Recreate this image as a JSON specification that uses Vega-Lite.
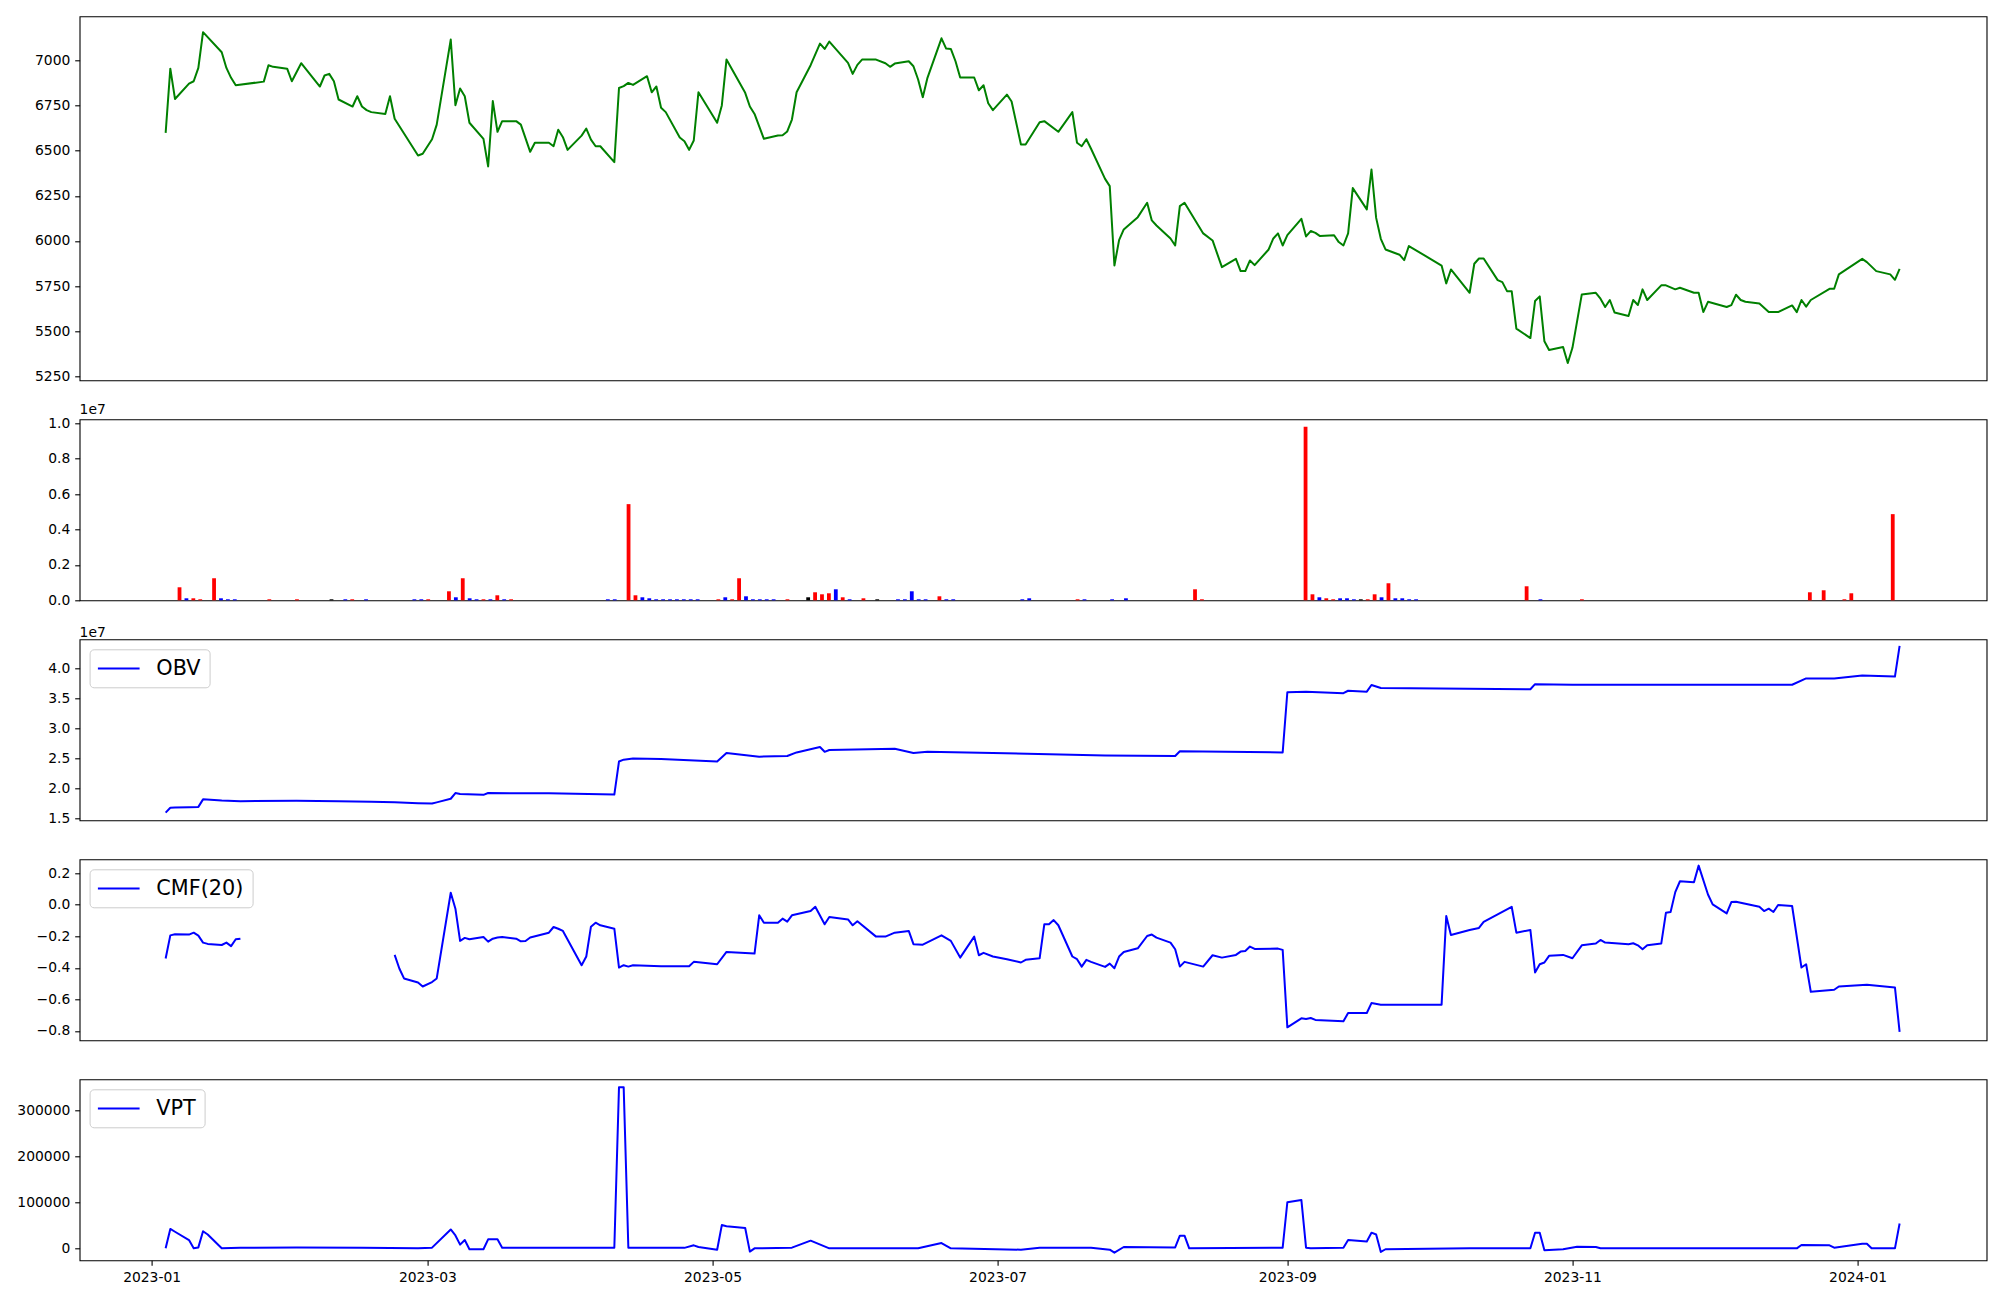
{
"$schema": "https://vega.github.io/schema/vega-lite/v6.json",
"background": "white",
"padding": {"left": 15.6, "top": 15.3, "right": 0, "bottom": 0},
"spacing": 39,
"bounds": "flush",
"resolve": {"scale": {"color": "independent"}, "legend": {"color": "independent"}},
"config": {
  "font": "DejaVu Sans",
  "view": {"stroke": "#000000", "strokeWidth": 1.1},
  "axis": {"domain": false, "grid": false, "tickColor": "#000000", "tickWidth": 1.1, "tickSize": 4.9, "labelFont": "DejaVu Sans", "labelFontSize": 13.9, "labelColor": "#000000", "labelPadding": 4.9},
  "legend": {"orient": "top-left", "offset": 10.4, "padding": 8.3, "fillColor": "rgba(255,255,255,0.8)", "strokeColor": "#cccccc", "cornerRadius": 4, "labelFont": "DejaVu Sans", "labelFontSize": 20.8, "labelColor": "#000000", "symbolType": "M-2.085,0L2.085,0", "symbolSize": 400, "symbolStrokeWidth": 2, "symbolOffset": 9.85, "labelOffset": 26.55},
  "title": {"anchor": "start", "frame": "group", "fontSize": 13.9, "fontWeight": "normal", "font": "DejaVu Sans", "color": "#000000", "offset": -1}
},
"vconcat": [
{
  "width": 1907, "height": 364,
  "data": {"values": [
{"date":"2023-01-04","close":6599},{"date":"2023-01-05","close":6955},{"date":"2023-01-06","close":6787},{"date":"2023-01-09","close":6872},{"date":"2023-01-10","close":6885},{"date":"2023-01-11","close":6959},{"date":"2023-01-12","close":7157},{"date":"2023-01-16","close":7046},{"date":"2023-01-17","close":6959},{"date":"2023-01-18","close":6904},{"date":"2023-01-19","close":6863},{"date":"2023-01-25","close":6883},{"date":"2023-01-26","close":6974},{"date":"2023-01-27","close":6965},{"date":"2023-01-30","close":6955},{"date":"2023-01-31","close":6885},{"date":"2023-02-02","close":6985},{"date":"2023-02-06","close":6856},{"date":"2023-02-07","close":6917},{"date":"2023-02-08","close":6926},{"date":"2023-02-09","close":6885},{"date":"2023-02-10","close":6784},{"date":"2023-02-13","close":6745},{"date":"2023-02-14","close":6802},{"date":"2023-02-15","close":6745},{"date":"2023-02-16","close":6725},{"date":"2023-02-17","close":6714},{"date":"2023-02-20","close":6704},{"date":"2023-02-21","close":6802},{"date":"2023-02-22","close":6677},{"date":"2023-02-27","close":6474},{"date":"2023-02-28","close":6483},{"date":"2023-03-02","close":6564},{"date":"2023-03-03","close":6645},{"date":"2023-03-06","close":7116},{"date":"2023-03-07","close":6752},{"date":"2023-03-08","close":6845},{"date":"2023-03-09","close":6802},{"date":"2023-03-10","close":6655},{"date":"2023-03-13","close":6566},{"date":"2023-03-14","close":6413},{"date":"2023-03-15","close":6775},{"date":"2023-03-16","close":6605},{"date":"2023-03-17","close":6664},{"date":"2023-03-20","close":6664},{"date":"2023-03-21","close":6645},{"date":"2023-03-23","close":6494},{"date":"2023-03-24","close":6544},{"date":"2023-03-27","close":6544},{"date":"2023-03-28","close":6525},{"date":"2023-03-29","close":6616},{"date":"2023-03-30","close":6575},{"date":"2023-03-31","close":6505},{"date":"2023-04-03","close":6584},{"date":"2023-04-04","close":6623},{"date":"2023-04-05","close":6562},{"date":"2023-04-06","close":6525},{"date":"2023-04-07","close":6525},{"date":"2023-04-10","close":6437},{"date":"2023-04-11","close":6848},{"date":"2023-04-12","close":6858},{"date":"2023-04-13","close":6876},{"date":"2023-04-14","close":6865},{"date":"2023-04-17","close":6913},{"date":"2023-04-18","close":6824},{"date":"2023-04-19","close":6856},{"date":"2023-04-20","close":6738},{"date":"2023-04-21","close":6714},{"date":"2023-04-24","close":6573},{"date":"2023-04-25","close":6553},{"date":"2023-04-26","close":6505},{"date":"2023-04-27","close":6557},{"date":"2023-04-28","close":6824},{"date":"2023-05-02","close":6655},{"date":"2023-05-03","close":6751},{"date":"2023-05-04","close":7005},{"date":"2023-05-08","close":6821},{"date":"2023-05-09","close":6745},{"date":"2023-05-10","close":6704},{"date":"2023-05-12","close":6566},{"date":"2023-05-15","close":6584},{"date":"2023-05-16","close":6586},{"date":"2023-05-17","close":6607},{"date":"2023-05-18","close":6673},{"date":"2023-05-19","close":6824},{"date":"2023-05-22","close":6974},{"date":"2023-05-24","close":7094},{"date":"2023-05-25","close":7064},{"date":"2023-05-26","close":7105},{"date":"2023-05-30","close":6987},{"date":"2023-05-31","close":6926},{"date":"2023-06-01","close":6976},{"date":"2023-06-02","close":7005},{"date":"2023-06-05","close":7005},{"date":"2023-06-07","close":6985},{"date":"2023-06-08","close":6965},{"date":"2023-06-09","close":6983},{"date":"2023-06-12","close":6996},{"date":"2023-06-13","close":6968},{"date":"2023-06-14","close":6895},{"date":"2023-06-15","close":6797},{"date":"2023-06-16","close":6904},{"date":"2023-06-19","close":7123},{"date":"2023-06-20","close":7066},{"date":"2023-06-21","close":7064},{"date":"2023-06-22","close":6996},{"date":"2023-06-23","close":6906},{"date":"2023-06-26","close":6906},{"date":"2023-06-27","close":6835},{"date":"2023-06-28","close":6863},{"date":"2023-06-29","close":6763},{"date":"2023-06-30","close":6725},{"date":"2023-07-03","close":6811},{"date":"2023-07-04","close":6773},{"date":"2023-07-06","close":6535},{"date":"2023-07-07","close":6535},{"date":"2023-07-10","close":6658},{"date":"2023-07-11","close":6664},{"date":"2023-07-14","close":6605},{"date":"2023-07-17","close":6714},{"date":"2023-07-18","close":6544},{"date":"2023-07-19","close":6525},{"date":"2023-07-20","close":6564},{"date":"2023-07-21","close":6511},{"date":"2023-07-24","close":6344},{"date":"2023-07-25","close":6304},{"date":"2023-07-26","close":5864},{"date":"2023-07-27","close":6005},{"date":"2023-07-28","close":6064},{"date":"2023-07-31","close":6132},{"date":"2023-08-02","close":6212},{"date":"2023-08-03","close":6114},{"date":"2023-08-04","close":6086},{"date":"2023-08-07","close":6014},{"date":"2023-08-08","close":5975},{"date":"2023-08-09","close":6193},{"date":"2023-08-10","close":6212},{"date":"2023-08-14","close":6042},{"date":"2023-08-16","close":6003},{"date":"2023-08-18","close":5855},{"date":"2023-08-21","close":5901},{"date":"2023-08-22","close":5833},{"date":"2023-08-23","close":5833},{"date":"2023-08-24","close":5892},{"date":"2023-08-25","close":5866},{"date":"2023-08-28","close":5953},{"date":"2023-08-29","close":6014},{"date":"2023-08-30","close":6042},{"date":"2023-08-31","close":5975},{"date":"2023-09-01","close":6032},{"date":"2023-09-04","close":6123},{"date":"2023-09-05","close":6025},{"date":"2023-09-06","close":6055},{"date":"2023-09-07","close":6045},{"date":"2023-09-08","close":6027},{"date":"2023-09-11","close":6032},{"date":"2023-09-12","close":5994},{"date":"2023-09-13","close":5975},{"date":"2023-09-14","close":6042},{"date":"2023-09-15","close":6293},{"date":"2023-09-18","close":6175},{"date":"2023-09-19","close":6396},{"date":"2023-09-20","close":6128},{"date":"2023-09-21","close":6012},{"date":"2023-09-22","close":5953},{"date":"2023-09-25","close":5924},{"date":"2023-09-26","close":5894},{"date":"2023-09-27","close":5972},{"date":"2023-10-04","close":5864},{"date":"2023-10-05","close":5765},{"date":"2023-10-06","close":5842},{"date":"2023-10-10","close":5713},{"date":"2023-10-11","close":5874},{"date":"2023-10-12","close":5903},{"date":"2023-10-13","close":5903},{"date":"2023-10-16","close":5783},{"date":"2023-10-17","close":5772},{"date":"2023-10-18","close":5722},{"date":"2023-10-19","close":5722},{"date":"2023-10-20","close":5514},{"date":"2023-10-23","close":5462},{"date":"2023-10-24","close":5667},{"date":"2023-10-25","close":5693},{"date":"2023-10-26","close":5444},{"date":"2023-10-27","close":5396},{"date":"2023-10-30","close":5412},{"date":"2023-10-31","close":5324},{"date":"2023-11-01","close":5408},{"date":"2023-11-03","close":5704},{"date":"2023-11-06","close":5713},{"date":"2023-11-07","close":5680},{"date":"2023-11-08","close":5634},{"date":"2023-11-09","close":5673},{"date":"2023-11-10","close":5604},{"date":"2023-11-13","close":5584},{"date":"2023-11-14","close":5673},{"date":"2023-11-15","close":5645},{"date":"2023-11-16","close":5732},{"date":"2023-11-17","close":5673},{"date":"2023-11-20","close":5754},{"date":"2023-11-21","close":5754},{"date":"2023-11-23","close":5732},{"date":"2023-11-24","close":5741},{"date":"2023-11-27","close":5713},{"date":"2023-11-28","close":5713},{"date":"2023-11-29","close":5606},{"date":"2023-11-30","close":5663},{"date":"2023-12-04","close":5634},{"date":"2023-12-05","close":5645},{"date":"2023-12-06","close":5702},{"date":"2023-12-07","close":5673},{"date":"2023-12-08","close":5663},{"date":"2023-12-11","close":5654},{"date":"2023-12-13","close":5606},{"date":"2023-12-15","close":5606},{"date":"2023-12-18","close":5643},{"date":"2023-12-19","close":5606},{"date":"2023-12-20","close":5673},{"date":"2023-12-21","close":5636},{"date":"2023-12-22","close":5673},{"date":"2023-12-26","close":5735},{"date":"2023-12-27","close":5735},{"date":"2023-12-28","close":5815},{"date":"2024-01-02","close":5901},{"date":"2024-01-03","close":5883},{"date":"2024-01-05","close":5833},{"date":"2024-01-08","close":5815},{"date":"2024-01-09","close":5785},{"date":"2024-01-10","close":5846}
  ]},
  "mark": {"type": "line", "color": "#008000", "strokeWidth": 2, "strokeJoin": "round"},
  "encoding": {
    "x": {"field": "date", "type": "temporal", "scale": {"type": "utc", "domain": [{"year":2022,"month":12,"date":16,"hours":14,"minutes":10,"utc":true},{"year":2024,"month":1,"date":28,"hours":14,"minutes":40,"utc":true}]}, "axis": null},
    "y": {"field": "close", "type": "quantitative", "scale": {"domain": [5228, 7245], "nice": false, "zero": false}, "axis": {"values": [5250,5500,5750,6000,6250,6500,6750,7000], "format": "d", "title": null}}
  }
},
{
  "width": 1907, "height": 181,
  "title": {"text": "1e7"},
  "data": {"values": [
{"k":0,"volume":735000,"dir":"up"},{"k":1,"volume":113000,"dir":"down"},{"k":2,"volume":113000,"dir":"up"},{"k":3,"volume":57000,"dir":"up"},{"k":5,"volume":1245000,"dir":"up"},{"k":6,"volume":113000,"dir":"down"},{"k":7,"volume":57000,"dir":"down"},{"k":8,"volume":57000,"dir":"down"},{"k":13,"volume":57000,"dir":"up"},{"k":17,"volume":57000,"dir":"up"},{"k":22,"volume":57000,"dir":"flat"},{"k":24,"volume":57000,"dir":"down"},{"k":25,"volume":57000,"dir":"up"},{"k":27,"volume":57000,"dir":"down"},{"k":34,"volume":57000,"dir":"down"},{"k":35,"volume":57000,"dir":"down"},{"k":36,"volume":57000,"dir":"up"},{"k":39,"volume":509000,"dir":"up"},{"k":40,"volume":170000,"dir":"down"},{"k":41,"volume":1245000,"dir":"up"},{"k":42,"volume":113000,"dir":"down"},{"k":43,"volume":57000,"dir":"down"},{"k":44,"volume":57000,"dir":"up"},{"k":45,"volume":57000,"dir":"down"},{"k":46,"volume":283000,"dir":"up"},{"k":47,"volume":57000,"dir":"down"},{"k":48,"volume":57000,"dir":"up"},{"k":62,"volume":57000,"dir":"down"},{"k":63,"volume":57000,"dir":"down"},{"k":65,"volume":5430000,"dir":"up"},{"k":66,"volume":283000,"dir":"up"},{"k":67,"volume":170000,"dir":"down"},{"k":68,"volume":113000,"dir":"down"},{"k":69,"volume":57000,"dir":"down"},{"k":70,"volume":57000,"dir":"down"},{"k":71,"volume":57000,"dir":"down"},{"k":72,"volume":57000,"dir":"down"},{"k":73,"volume":57000,"dir":"down"},{"k":74,"volume":57000,"dir":"down"},{"k":75,"volume":57000,"dir":"down"},{"k":78,"volume":57000,"dir":"up"},{"k":79,"volume":170000,"dir":"down"},{"k":80,"volume":57000,"dir":"up"},{"k":81,"volume":1245000,"dir":"up"},{"k":82,"volume":226000,"dir":"down"},{"k":83,"volume":57000,"dir":"down"},{"k":84,"volume":57000,"dir":"down"},{"k":85,"volume":57000,"dir":"down"},{"k":86,"volume":57000,"dir":"down"},{"k":88,"volume":57000,"dir":"up"},{"k":91,"volume":170000,"dir":"flat"},{"k":92,"volume":453000,"dir":"up"},{"k":93,"volume":339000,"dir":"up"},{"k":94,"volume":396000,"dir":"up"},{"k":95,"volume":622000,"dir":"down"},{"k":96,"volume":170000,"dir":"up"},{"k":97,"volume":57000,"dir":"down"},{"k":99,"volume":113000,"dir":"up"},{"k":101,"volume":57000,"dir":"flat"},{"k":104,"volume":57000,"dir":"down"},{"k":105,"volume":57000,"dir":"down"},{"k":106,"volume":509000,"dir":"down"},{"k":107,"volume":57000,"dir":"down"},{"k":108,"volume":57000,"dir":"down"},{"k":110,"volume":226000,"dir":"up"},{"k":111,"volume":57000,"dir":"down"},{"k":112,"volume":57000,"dir":"down"},{"k":122,"volume":57000,"dir":"down"},{"k":123,"volume":113000,"dir":"down"},{"k":130,"volume":57000,"dir":"up"},{"k":131,"volume":57000,"dir":"down"},{"k":135,"volume":57000,"dir":"down"},{"k":137,"volume":113000,"dir":"down"},{"k":147,"volume":622000,"dir":"up"},{"k":148,"volume":57000,"dir":"up"},{"k":163,"volume":9805000,"dir":"up"},{"k":164,"volume":339000,"dir":"up"},{"k":165,"volume":170000,"dir":"down"},{"k":166,"volume":113000,"dir":"up"},{"k":167,"volume":57000,"dir":"up"},{"k":168,"volume":113000,"dir":"down"},{"k":169,"volume":113000,"dir":"down"},{"k":170,"volume":57000,"dir":"down"},{"k":171,"volume":57000,"dir":"flat"},{"k":172,"volume":57000,"dir":"up"},{"k":173,"volume":339000,"dir":"up"},{"k":174,"volume":170000,"dir":"down"},{"k":175,"volume":962000,"dir":"up"},{"k":176,"volume":113000,"dir":"down"},{"k":177,"volume":113000,"dir":"down"},{"k":178,"volume":57000,"dir":"down"},{"k":179,"volume":57000,"dir":"down"},{"k":195,"volume":792000,"dir":"up"},{"k":197,"volume":57000,"dir":"down"},{"k":203,"volume":57000,"dir":"up"},{"k":236,"volume":453000,"dir":"up"},{"k":238,"volume":566000,"dir":"up"},{"k":241,"volume":57000,"dir":"up"},{"k":242,"volume":396000,"dir":"up"},{"k":248,"volume":4865000,"dir":"up"}
  ]},
  "mark": {"type": "bar", "width": 3.8},
  "encoding": {
    "x": {"field": "k", "type": "quantitative", "scale": {"domain": [-13.74, 260.86], "nice": false, "zero": false}, "axis": null},
    "y": {"field": "volume", "type": "quantitative", "scale": {"domain": [0, 10220000], "nice": false}, "axis": {"values": [0,2000000,4000000,6000000,8000000,10000000], "labelExpr": "format(datum.value/1e7, '.1f')", "title": null}},
    "color": {"field": "dir", "type": "nominal", "scale": {"domain": ["up","down","flat"], "range": ["#ff0000","#0000ff","#000000"]}, "legend": null}
  }
},
{
  "width": 1907, "height": 181,
  "title": {"text": "1e7"},
  "data": {"values": [
{"date":"2023-01-04","s":"OBV","v":16000000},{"date":"2023-01-05","s":"OBV","v":16800000},{"date":"2023-01-06","s":"OBV","v":16850000},{"date":"2023-01-09","s":"OBV","v":16900000},{"date":"2023-01-11","s":"OBV","v":16950000},{"date":"2023-01-12","s":"OBV","v":18200000},{"date":"2023-01-16","s":"OBV","v":18000000},{"date":"2023-01-20","s":"OBV","v":17900000},{"date":"2023-02-01","s":"OBV","v":17950000},{"date":"2023-02-10","s":"OBV","v":17900000},{"date":"2023-02-17","s":"OBV","v":17800000},{"date":"2023-02-22","s":"OBV","v":17700000},{"date":"2023-02-27","s":"OBV","v":17550000},{"date":"2023-03-02","s":"OBV","v":17500000},{"date":"2023-03-03","s":"OBV","v":17700000},{"date":"2023-03-06","s":"OBV","v":18300000},{"date":"2023-03-07","s":"OBV","v":19250000},{"date":"2023-03-08","s":"OBV","v":19100000},{"date":"2023-03-13","s":"OBV","v":18950000},{"date":"2023-03-14","s":"OBV","v":19250000},{"date":"2023-03-27","s":"OBV","v":19200000},{"date":"2023-04-10","s":"OBV","v":19000000},{"date":"2023-04-11","s":"OBV","v":24500000},{"date":"2023-04-12","s":"OBV","v":24800000},{"date":"2023-04-14","s":"OBV","v":25000000},{"date":"2023-04-20","s":"OBV","v":24900000},{"date":"2023-05-02","s":"OBV","v":24500000},{"date":"2023-05-04","s":"OBV","v":25900000},{"date":"2023-05-11","s":"OBV","v":25300000},{"date":"2023-05-17","s":"OBV","v":25400000},{"date":"2023-05-19","s":"OBV","v":26000000},{"date":"2023-05-24","s":"OBV","v":26900000},{"date":"2023-05-25","s":"OBV","v":26100000},{"date":"2023-05-26","s":"OBV","v":26400000},{"date":"2023-06-09","s":"OBV","v":26600000},{"date":"2023-06-13","s":"OBV","v":25900000},{"date":"2023-06-16","s":"OBV","v":26100000},{"date":"2023-06-30","s":"OBV","v":25900000},{"date":"2023-07-24","s":"OBV","v":25500000},{"date":"2023-08-08","s":"OBV","v":25400000},{"date":"2023-08-09","s":"OBV","v":26200000},{"date":"2023-08-31","s":"OBV","v":26000000},{"date":"2023-09-01","s":"OBV","v":36000000},{"date":"2023-09-05","s":"OBV","v":36100000},{"date":"2023-09-13","s":"OBV","v":35850000},{"date":"2023-09-14","s":"OBV","v":36250000},{"date":"2023-09-18","s":"OBV","v":36100000},{"date":"2023-09-19","s":"OBV","v":37200000},{"date":"2023-09-21","s":"OBV","v":36700000},{"date":"2023-10-23","s":"OBV","v":36500000},{"date":"2023-10-24","s":"OBV","v":37350000},{"date":"2023-11-01","s":"OBV","v":37250000},{"date":"2023-12-18","s":"OBV","v":37250000},{"date":"2023-12-21","s":"OBV","v":38300000},{"date":"2023-12-27","s":"OBV","v":38300000},{"date":"2024-01-02","s":"OBV","v":38800000},{"date":"2024-01-09","s":"OBV","v":38600000},{"date":"2024-01-10","s":"OBV","v":43700000}
  ]},
  "mark": {"type": "line", "strokeWidth": 2, "strokeJoin": "round"},
  "encoding": {
    "x": {"field": "date", "type": "temporal", "scale": {"type": "utc", "domain": [{"year":2022,"month":12,"date":16,"hours":14,"minutes":10,"utc":true},{"year":2024,"month":1,"date":28,"hours":14,"minutes":40,"utc":true}]}, "axis": null},
    "y": {"field": "v", "type": "quantitative", "scale": {"domain": [14720000, 44800000], "nice": false, "zero": false}, "axis": {"values": [15000000,20000000,25000000,30000000,35000000,40000000], "labelExpr": "format(datum.value/1e7, '.1f')", "title": null}},
    "color": {"field": "s", "type": "nominal", "scale": {"domain": ["OBV"], "range": ["#0000ff"]}, "legend": {"title": null}}
  }
},
{
  "width": 1907, "height": 181,
  "data": {"values": [
{"date":"2023-01-04","s":"CMF(20)","v":-0.341},{"date":"2023-01-05","s":"CMF(20)","v":-0.194},{"date":"2023-01-06","s":"CMF(20)","v":-0.187},{"date":"2023-01-09","s":"CMF(20)","v":-0.189},{"date":"2023-01-10","s":"CMF(20)","v":-0.177},{"date":"2023-01-11","s":"CMF(20)","v":-0.196},{"date":"2023-01-12","s":"CMF(20)","v":-0.24},{"date":"2023-01-13","s":"CMF(20)","v":-0.248},{"date":"2023-01-16","s":"CMF(20)","v":-0.255},{"date":"2023-01-17","s":"CMF(20)","v":-0.24},{"date":"2023-01-18","s":"CMF(20)","v":-0.262},{"date":"2023-01-19","s":"CMF(20)","v":-0.219},{"date":"2023-01-20","s":"CMF(20)","v":-0.215},{"date":"2023-01-25","s":"CMF(20)","v":null},{"date":"2023-02-22","s":"CMF(20)","v":-0.318},{"date":"2023-02-23","s":"CMF(20)","v":-0.404},{"date":"2023-02-24","s":"CMF(20)","v":-0.467},{"date":"2023-02-27","s":"CMF(20)","v":-0.493},{"date":"2023-02-28","s":"CMF(20)","v":-0.518},{"date":"2023-03-02","s":"CMF(20)","v":-0.49},{"date":"2023-03-03","s":"CMF(20)","v":-0.467},{"date":"2023-03-06","s":"CMF(20)","v":0.076},{"date":"2023-03-07","s":"CMF(20)","v":-0.025},{"date":"2023-03-08","s":"CMF(20)","v":-0.229},{"date":"2023-03-09","s":"CMF(20)","v":-0.21},{"date":"2023-03-10","s":"CMF(20)","v":-0.219},{"date":"2023-03-13","s":"CMF(20)","v":-0.204},{"date":"2023-03-14","s":"CMF(20)","v":-0.234},{"date":"2023-03-15","s":"CMF(20)","v":-0.215},{"date":"2023-03-16","s":"CMF(20)","v":-0.208},{"date":"2023-03-17","s":"CMF(20)","v":-0.204},{"date":"2023-03-20","s":"CMF(20)","v":-0.215},{"date":"2023-03-21","s":"CMF(20)","v":-0.232},{"date":"2023-03-22","s":"CMF(20)","v":-0.23},{"date":"2023-03-23","s":"CMF(20)","v":-0.208},{"date":"2023-03-27","s":"CMF(20)","v":-0.177},{"date":"2023-03-28","s":"CMF(20)","v":-0.141},{"date":"2023-03-29","s":"CMF(20)","v":-0.152},{"date":"2023-03-30","s":"CMF(20)","v":-0.166},{"date":"2023-04-03","s":"CMF(20)","v":-0.383},{"date":"2023-04-04","s":"CMF(20)","v":-0.328},{"date":"2023-04-05","s":"CMF(20)","v":-0.139},{"date":"2023-04-06","s":"CMF(20)","v":-0.114},{"date":"2023-04-07","s":"CMF(20)","v":-0.13},{"date":"2023-04-10","s":"CMF(20)","v":-0.152},{"date":"2023-04-11","s":"CMF(20)","v":-0.398},{"date":"2023-04-12","s":"CMF(20)","v":-0.383},{"date":"2023-04-13","s":"CMF(20)","v":-0.392},{"date":"2023-04-14","s":"CMF(20)","v":-0.383},{"date":"2023-04-17","s":"CMF(20)","v":-0.387},{"date":"2023-04-20","s":"CMF(20)","v":-0.39},{"date":"2023-04-26","s":"CMF(20)","v":-0.39},{"date":"2023-04-27","s":"CMF(20)","v":-0.362},{"date":"2023-05-02","s":"CMF(20)","v":-0.377},{"date":"2023-05-04","s":"CMF(20)","v":-0.299},{"date":"2023-05-10","s":"CMF(20)","v":-0.309},{"date":"2023-05-11","s":"CMF(20)","v":-0.067},{"date":"2023-05-12","s":"CMF(20)","v":-0.114},{"date":"2023-05-15","s":"CMF(20)","v":-0.114},{"date":"2023-05-16","s":"CMF(20)","v":-0.088},{"date":"2023-05-17","s":"CMF(20)","v":-0.107},{"date":"2023-05-18","s":"CMF(20)","v":-0.067},{"date":"2023-05-22","s":"CMF(20)","v":-0.04},{"date":"2023-05-23","s":"CMF(20)","v":-0.013},{"date":"2023-05-25","s":"CMF(20)","v":-0.124},{"date":"2023-05-26","s":"CMF(20)","v":-0.078},{"date":"2023-05-30","s":"CMF(20)","v":-0.093},{"date":"2023-05-31","s":"CMF(20)","v":-0.13},{"date":"2023-06-01","s":"CMF(20)","v":-0.105},{"date":"2023-06-05","s":"CMF(20)","v":-0.202},{"date":"2023-06-07","s":"CMF(20)","v":-0.202},{"date":"2023-06-09","s":"CMF(20)","v":-0.177},{"date":"2023-06-12","s":"CMF(20)","v":-0.166},{"date":"2023-06-13","s":"CMF(20)","v":-0.25},{"date":"2023-06-15","s":"CMF(20)","v":-0.253},{"date":"2023-06-19","s":"CMF(20)","v":-0.194},{"date":"2023-06-21","s":"CMF(20)","v":-0.229},{"date":"2023-06-23","s":"CMF(20)","v":-0.335},{"date":"2023-06-26","s":"CMF(20)","v":-0.202},{"date":"2023-06-27","s":"CMF(20)","v":-0.32},{"date":"2023-06-28","s":"CMF(20)","v":-0.305},{"date":"2023-06-30","s":"CMF(20)","v":-0.328},{"date":"2023-07-03","s":"CMF(20)","v":-0.345},{"date":"2023-07-06","s":"CMF(20)","v":-0.366},{"date":"2023-07-07","s":"CMF(20)","v":-0.349},{"date":"2023-07-10","s":"CMF(20)","v":-0.339},{"date":"2023-07-11","s":"CMF(20)","v":-0.124},{"date":"2023-07-12","s":"CMF(20)","v":-0.124},{"date":"2023-07-13","s":"CMF(20)","v":-0.097},{"date":"2023-07-14","s":"CMF(20)","v":-0.13},{"date":"2023-07-17","s":"CMF(20)","v":-0.328},{"date":"2023-07-18","s":"CMF(20)","v":-0.345},{"date":"2023-07-19","s":"CMF(20)","v":-0.392},{"date":"2023-07-20","s":"CMF(20)","v":-0.349},{"date":"2023-07-21","s":"CMF(20)","v":-0.362},{"date":"2023-07-24","s":"CMF(20)","v":-0.394},{"date":"2023-07-25","s":"CMF(20)","v":-0.373},{"date":"2023-07-26","s":"CMF(20)","v":-0.402},{"date":"2023-07-27","s":"CMF(20)","v":-0.328},{"date":"2023-07-28","s":"CMF(20)","v":-0.299},{"date":"2023-07-31","s":"CMF(20)","v":-0.276},{"date":"2023-08-02","s":"CMF(20)","v":-0.198},{"date":"2023-08-03","s":"CMF(20)","v":-0.189},{"date":"2023-08-04","s":"CMF(20)","v":-0.208},{"date":"2023-08-07","s":"CMF(20)","v":-0.24},{"date":"2023-08-08","s":"CMF(20)","v":-0.282},{"date":"2023-08-09","s":"CMF(20)","v":-0.392},{"date":"2023-08-10","s":"CMF(20)","v":-0.362},{"date":"2023-08-14","s":"CMF(20)","v":-0.392},{"date":"2023-08-16","s":"CMF(20)","v":-0.32},{"date":"2023-08-18","s":"CMF(20)","v":-0.335},{"date":"2023-08-21","s":"CMF(20)","v":-0.318},{"date":"2023-08-22","s":"CMF(20)","v":-0.297},{"date":"2023-08-23","s":"CMF(20)","v":-0.293},{"date":"2023-08-24","s":"CMF(20)","v":-0.265},{"date":"2023-08-25","s":"CMF(20)","v":-0.28},{"date":"2023-08-30","s":"CMF(20)","v":-0.278},{"date":"2023-08-31","s":"CMF(20)","v":-0.286},{"date":"2023-09-01","s":"CMF(20)","v":-0.777},{"date":"2023-09-04","s":"CMF(20)","v":-0.72},{"date":"2023-09-05","s":"CMF(20)","v":-0.724},{"date":"2023-09-06","s":"CMF(20)","v":-0.718},{"date":"2023-09-07","s":"CMF(20)","v":-0.73},{"date":"2023-09-13","s":"CMF(20)","v":-0.739},{"date":"2023-09-14","s":"CMF(20)","v":-0.686},{"date":"2023-09-18","s":"CMF(20)","v":-0.686},{"date":"2023-09-19","s":"CMF(20)","v":-0.623},{"date":"2023-09-21","s":"CMF(20)","v":-0.634},{"date":"2023-10-04","s":"CMF(20)","v":-0.634},{"date":"2023-10-05","s":"CMF(20)","v":-0.072},{"date":"2023-10-06","s":"CMF(20)","v":-0.192},{"date":"2023-10-10","s":"CMF(20)","v":-0.16},{"date":"2023-10-12","s":"CMF(20)","v":-0.147},{"date":"2023-10-13","s":"CMF(20)","v":-0.109},{"date":"2023-10-19","s":"CMF(20)","v":-0.013},{"date":"2023-10-20","s":"CMF(20)","v":-0.177},{"date":"2023-10-23","s":"CMF(20)","v":-0.16},{"date":"2023-10-24","s":"CMF(20)","v":-0.429},{"date":"2023-10-25","s":"CMF(20)","v":-0.377},{"date":"2023-10-26","s":"CMF(20)","v":-0.366},{"date":"2023-10-27","s":"CMF(20)","v":-0.324},{"date":"2023-10-30","s":"CMF(20)","v":-0.318},{"date":"2023-11-01","s":"CMF(20)","v":-0.339},{"date":"2023-11-03","s":"CMF(20)","v":-0.257},{"date":"2023-11-06","s":"CMF(20)","v":-0.246},{"date":"2023-11-07","s":"CMF(20)","v":-0.223},{"date":"2023-11-08","s":"CMF(20)","v":-0.24},{"date":"2023-11-13","s":"CMF(20)","v":-0.25},{"date":"2023-11-14","s":"CMF(20)","v":-0.244},{"date":"2023-11-15","s":"CMF(20)","v":-0.257},{"date":"2023-11-16","s":"CMF(20)","v":-0.282},{"date":"2023-11-17","s":"CMF(20)","v":-0.257},{"date":"2023-11-20","s":"CMF(20)","v":-0.246},{"date":"2023-11-21","s":"CMF(20)","v":-0.051},{"date":"2023-11-22","s":"CMF(20)","v":-0.046},{"date":"2023-11-23","s":"CMF(20)","v":0.08},{"date":"2023-11-24","s":"CMF(20)","v":0.149},{"date":"2023-11-27","s":"CMF(20)","v":0.143},{"date":"2023-11-28","s":"CMF(20)","v":0.248},{"date":"2023-11-30","s":"CMF(20)","v":0.065},{"date":"2023-12-01","s":"CMF(20)","v":0.002},{"date":"2023-12-04","s":"CMF(20)","v":-0.055},{"date":"2023-12-05","s":"CMF(20)","v":0.017},{"date":"2023-12-06","s":"CMF(20)","v":0.019},{"date":"2023-12-11","s":"CMF(20)","v":-0.013},{"date":"2023-12-12","s":"CMF(20)","v":-0.04},{"date":"2023-12-13","s":"CMF(20)","v":-0.025},{"date":"2023-12-14","s":"CMF(20)","v":-0.046},{"date":"2023-12-15","s":"CMF(20)","v":-0.002},{"date":"2023-12-18","s":"CMF(20)","v":-0.008},{"date":"2023-12-20","s":"CMF(20)","v":-0.398},{"date":"2023-12-21","s":"CMF(20)","v":-0.377},{"date":"2023-12-22","s":"CMF(20)","v":-0.552},{"date":"2023-12-27","s":"CMF(20)","v":-0.539},{"date":"2023-12-28","s":"CMF(20)","v":-0.518},{"date":"2024-01-03","s":"CMF(20)","v":-0.507},{"date":"2024-01-09","s":"CMF(20)","v":-0.524},{"date":"2024-01-10","s":"CMF(20)","v":-0.806}
  ]},
  "mark": {"type": "line", "strokeWidth": 2, "strokeJoin": "round"},
  "encoding": {
    "x": {"field": "date", "type": "temporal", "scale": {"type": "utc", "domain": [{"year":2022,"month":12,"date":16,"hours":14,"minutes":10,"utc":true},{"year":2024,"month":1,"date":28,"hours":14,"minutes":40,"utc":true}]}, "axis": null},
    "y": {"field": "v", "type": "quantitative", "scale": {"domain": [-0.859, 0.288], "nice": false, "zero": false}, "axis": {"values": [-0.8,-0.6,-0.4,-0.2,0,0.2], "format": ".1f", "title": null}},
    "color": {"field": "s", "type": "nominal", "scale": {"domain": ["CMF(20)"], "range": ["#0000ff"]}, "legend": {"title": null}}
  }
},
{
  "width": 1907, "height": 181,
  "data": {"values": [
{"date":"2023-01-04","s":"VPT","v":0},{"date":"2023-01-05","s":"VPT","v":42000},{"date":"2023-01-06","s":"VPT","v":36000},{"date":"2023-01-09","s":"VPT","v":18000},{"date":"2023-01-10","s":"VPT","v":0},{"date":"2023-01-11","s":"VPT","v":2000},{"date":"2023-01-12","s":"VPT","v":37000},{"date":"2023-01-13","s":"VPT","v":30000},{"date":"2023-01-16","s":"VPT","v":0},{"date":"2023-01-20","s":"VPT","v":1000},{"date":"2023-02-01","s":"VPT","v":2000},{"date":"2023-02-15","s":"VPT","v":1000},{"date":"2023-02-27","s":"VPT","v":0},{"date":"2023-03-02","s":"VPT","v":1500},{"date":"2023-03-06","s":"VPT","v":41000},{"date":"2023-03-07","s":"VPT","v":28000},{"date":"2023-03-08","s":"VPT","v":8000},{"date":"2023-03-09","s":"VPT","v":18000},{"date":"2023-03-10","s":"VPT","v":-2000},{"date":"2023-03-13","s":"VPT","v":-2000},{"date":"2023-03-14","s":"VPT","v":19500},{"date":"2023-03-16","s":"VPT","v":19500},{"date":"2023-03-17","s":"VPT","v":1400},{"date":"2023-04-10","s":"VPT","v":1400},{"date":"2023-04-11","s":"VPT","v":350000},{"date":"2023-04-12","s":"VPT","v":350000},{"date":"2023-04-13","s":"VPT","v":1400},{"date":"2023-04-25","s":"VPT","v":1000},{"date":"2023-04-27","s":"VPT","v":6500},{"date":"2023-04-28","s":"VPT","v":3000},{"date":"2023-05-02","s":"VPT","v":-3000},{"date":"2023-05-03","s":"VPT","v":50500},{"date":"2023-05-04","s":"VPT","v":48000},{"date":"2023-05-08","s":"VPT","v":44000},{"date":"2023-05-09","s":"VPT","v":-7200},{"date":"2023-05-10","s":"VPT","v":0},{"date":"2023-05-18","s":"VPT","v":1400},{"date":"2023-05-22","s":"VPT","v":16600},{"date":"2023-05-26","s":"VPT","v":0},{"date":"2023-06-14","s":"VPT","v":0},{"date":"2023-06-19","s":"VPT","v":11500},{"date":"2023-06-21","s":"VPT","v":0},{"date":"2023-07-06","s":"VPT","v":-3000},{"date":"2023-07-10","s":"VPT","v":1000},{"date":"2023-07-21","s":"VPT","v":1000},{"date":"2023-07-25","s":"VPT","v":-3000},{"date":"2023-07-26","s":"VPT","v":-9400},{"date":"2023-07-28","s":"VPT","v":2900},{"date":"2023-08-08","s":"VPT","v":2000},{"date":"2023-08-09","s":"VPT","v":27400},{"date":"2023-08-10","s":"VPT","v":27400},{"date":"2023-08-11","s":"VPT","v":0},{"date":"2023-08-31","s":"VPT","v":1400},{"date":"2023-09-01","s":"VPT","v":100000},{"date":"2023-09-04","s":"VPT","v":105000},{"date":"2023-09-05","s":"VPT","v":1400},{"date":"2023-09-06","s":"VPT","v":0},{"date":"2023-09-13","s":"VPT","v":1400},{"date":"2023-09-14","s":"VPT","v":18000},{"date":"2023-09-18","s":"VPT","v":15000},{"date":"2023-09-19","s":"VPT","v":34000},{"date":"2023-09-20","s":"VPT","v":30000},{"date":"2023-09-21","s":"VPT","v":-7900},{"date":"2023-09-22","s":"VPT","v":-2000},{"date":"2023-10-10","s":"VPT","v":0},{"date":"2023-10-23","s":"VPT","v":0},{"date":"2023-10-24","s":"VPT","v":34000},{"date":"2023-10-25","s":"VPT","v":34000},{"date":"2023-10-26","s":"VPT","v":-4300},{"date":"2023-10-30","s":"VPT","v":-2000},{"date":"2023-11-02","s":"VPT","v":3600},{"date":"2023-11-06","s":"VPT","v":2900},{"date":"2023-11-07","s":"VPT","v":0},{"date":"2023-12-19","s":"VPT","v":0},{"date":"2023-12-20","s":"VPT","v":7200},{"date":"2023-12-26","s":"VPT","v":6500},{"date":"2023-12-27","s":"VPT","v":1400},{"date":"2024-01-02","s":"VPT","v":10000},{"date":"2024-01-03","s":"VPT","v":10000},{"date":"2024-01-04","s":"VPT","v":0},{"date":"2024-01-09","s":"VPT","v":0},{"date":"2024-01-10","s":"VPT","v":54000}
  ]},
  "mark": {"type": "line", "strokeWidth": 2, "strokeJoin": "round"},
  "encoding": {
    "x": {"field": "date", "type": "temporal", "scale": {"type": "utc", "domain": [{"year":2022,"month":12,"date":16,"hours":14,"minutes":10,"utc":true},{"year":2024,"month":1,"date":28,"hours":14,"minutes":40,"utc":true}]}, "axis": {"values": [{"year":2023,"month":1,"date":1,"utc":true},{"year":2023,"month":3,"date":1,"utc":true},{"year":2023,"month":5,"date":1,"utc":true},{"year":2023,"month":7,"date":1,"utc":true},{"year":2023,"month":9,"date":1,"utc":true},{"year":2023,"month":11,"date":1,"utc":true},{"year":2024,"month":1,"date":1,"utc":true}], "format": "%Y-%m", "title": null, "labelFlush": false}},
    "y": {"field": "v", "type": "quantitative", "scale": {"domain": [-26000, 367000], "nice": false, "zero": false}, "axis": {"values": [0,100000,200000,300000], "format": "d", "title": null}},
    "color": {"field": "s", "type": "nominal", "scale": {"domain": ["VPT"], "range": ["#0000ff"]}, "legend": {"title": null}}
  }
}
]
}
